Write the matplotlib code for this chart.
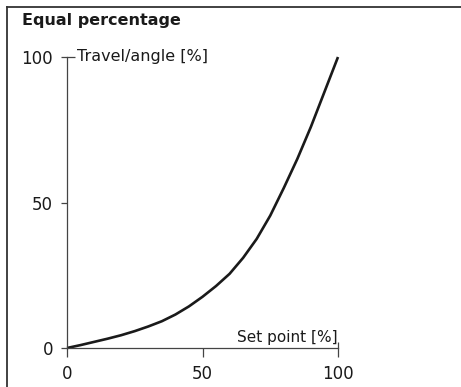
import matplotlib
matplotlib.use('Agg')
import matplotlib.pyplot as plt
from matplotlib.lines import Line2D

# values
set_point = [0, 5, 10, 15, 20, 25, 30, 35, 40, 45, 50, 55, 60, 65, 70, 75, 80, 85, 90, 95, 100]
travel = [0, 1.0, 2.1, 3.2, 4.4, 5.8, 7.4, 9.2, 11.5, 14.3, 17.6, 21.3, 25.5, 31.0, 37.5, 45.5, 55.0, 65.0, 76.0, 88.0, 100]
ticks = [0, 50, 100]
title = 'Equal percentage'
xlabel = 'Set point [%]'
ylabel = 'Travel/angle [%]'

plt.rcParams['font.family'] = ['DejaVu Sans']
axis_col = '#444444'
txt_col = '#1a1a1a'

fig = plt.figure(figsize=(4.61, 3.87), dpi=100)
ax = fig.add_axes([67 / 461, 1 - 348 / 387, (338 - 67) / 461, (348 - 57) / 387])

ax.plot(set_point, travel, color=txt_col, lw=1.9, solid_capstyle='butt', clip_on=False)

ax.set_xlim(0, 100)
ax.set_ylim(0, 100)
for s in ['top', 'right']:
    ax.spines[s].set_visible(False)
for s in ['left', 'bottom']:
    ax.spines[s].set_color(axis_col)
    ax.spines[s].set_linewidth(0.9)

ax.set_xticks(ticks)
ax.set_yticks(ticks)
ax.tick_params(axis='both', which='major', direction='out', color=axis_col,
               width=0.9, labelsize=12, labelcolor=txt_col)
ax.tick_params(axis='x', which='major', length=6.5, pad=6)
ax.tick_params(axis='y', which='major', length=4, pad=6)
# the end ticks cross the axis
ax.xaxis.remove_overlapping_locs = False
ax.yaxis.remove_overlapping_locs = False
ax.set_xticks([100], minor=True)
ax.set_yticks([100], minor=True)
ax.tick_params(axis='x', which='minor', direction='in', length=4.5, width=0.9, color=axis_col)
ax.tick_params(axis='y', which='minor', direction='in', length=6, width=0.9, color=axis_col)

ax.text(100, 1.2, xlabel, ha='right', va='bottom', fontsize=11, color=txt_col)
ax.text(3.7, 100, ylabel, ha='left', va='center', fontsize=11.5, color=txt_col)

fig.text(22 / 461, 1 - 20 / 387, title, ha='left', va='center', fontsize=11.5,
         fontweight='bold', color=txt_col)

# frame of the figure (left and top edges)
fig.add_artist(Line2D([6.5 / 461, 6.5 / 461], [0, 1 - 6.5 / 387], transform=fig.transFigure,
                      color='#333333', lw=1.3))
fig.add_artist(Line2D([6.5 / 461, 1], [1 - 6.5 / 387, 1 - 6.5 / 387], transform=fig.transFigure,
                      color='#333333', lw=1.3))

fig.savefig('out.png', dpi=100)
